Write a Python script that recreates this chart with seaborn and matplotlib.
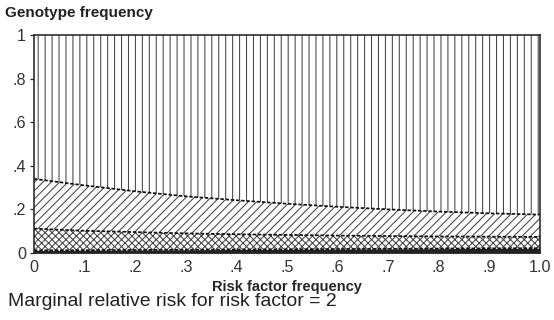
import numpy as np
import pandas as pd
import seaborn as sns
import matplotlib.pyplot as plt

# Data
risk_freq = [0.0, 0.1, 0.2, 0.3, 0.4, 0.5, 0.6, 0.7, 0.8, 0.9, 1.0]
dark_top = [0.012, 0.013, 0.014, 0.015, 0.016, 0.017, 0.018, 0.019, 0.020, 0.021, 0.022]
cross_top = [0.112, 0.102, 0.096, 0.090, 0.086, 0.083, 0.080, 0.078, 0.076, 0.075, 0.074]
diag_top = [0.340, 0.310, 0.283, 0.260, 0.242, 0.226, 0.212, 0.200, 0.190, 0.182, 0.176]
total = [1.0] * len(risk_freq)

x_ticks = [0, 0.1, 0.2, 0.3, 0.4, 0.5, 0.6, 0.7, 0.8, 0.9, 1.0]
x_labels = ["0", ".1", ".2", ".3", ".4", ".5", ".6", ".7", ".8", ".9", "1.0"]
y_ticks = [0, 0.2, 0.4, 0.6, 0.8, 1.0]
y_labels = ["0", ".2", ".4", ".6", ".8", "1"]

sns.set_style("ticks")
plt.rcParams["font.family"] = ["Liberation Sans", "DejaVu Sans"]
plt.rcParams["hatch.linewidth"] = 0.6

DPI = 125  # higher dpi -> hatch spacing closer to the reference
fig = plt.figure(figsize=(554 / DPI, 320 / DPI), dpi=DPI)
ax = fig.add_axes([34 / 554, 1 - 253 / 320, 506 / 554, 218 / 320])

x = np.array(risk_freq)
ax.fill_between(x, 0, dark_top, facecolor="#222222", edgecolor="#222222", lw=0)
ax.fill_between(x, dark_top, cross_top, facecolor="white", edgecolor="#444444", hatch="xxxxxx", lw=0)
ax.fill_between(x, cross_top, diag_top, facecolor="white", edgecolor="#444444", hatch="/////", lw=0)
ax.fill_between(x, diag_top, total, facecolor="white", edgecolor="#444444", hatch="|||", lw=0)

df = pd.DataFrame({"x": risk_freq, "a": dark_top, "b": cross_top, "c": diag_top})
for col in ["a", "b", "c"]:
    sns.lineplot(data=df, x="x", y=col, ax=ax, color="#111111", lw=1.0, ls=(0, (2, 1)))

ax.set_xlim(0, 1)
ax.set_ylim(0, 1)
ax.set_xticks(x_ticks)
ax.set_xticklabels(x_labels, fontsize=9.3, color="#333333")
ax.set_yticks(y_ticks)
ax.set_yticklabels(y_labels, fontsize=9.3, color="#333333")
ax.tick_params(axis="x", length=0, pad=4)
ax.tick_params(axis="y", length=2.5, width=0.7, pad=2)
for s in ax.spines.values():
    s.set_linewidth(0.9)
    s.set_color("#222222")
ax.set_xlabel("Risk factor frequency", fontsize=8.4, fontweight="bold", labelpad=3)
ax.set_ylabel("")

fig.text(5 / 554, 1 - 13 / 320, "Genotype frequency", fontsize=8.8, fontweight="bold",
         va="center", ha="left", color="#222222")
fig.text(8 / 554, 1 - 302 / 320, "Marginal relative risk for risk factor = 2", fontsize=11.2,
         va="center", ha="left", color="#222222")

fig.savefig("out.png", dpi=DPI)
